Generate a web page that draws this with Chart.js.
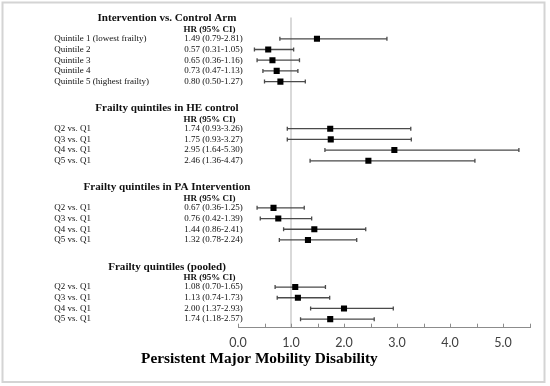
<!DOCTYPE html>
<html>
<head>
<meta charset="utf-8">
<script src="https://cdn.jsdelivr.net/npm/chart.js@4"></script>
<style>
  body{margin:0;background:#fff}
  .wrap{width:550px;height:386px;position:relative}
</style>
</head>
<body>
<div class="wrap"><canvas id="c1"></canvas></div>
<script>
// sections of the forest plot
const sectionTitles = ['Intervention vs. Control Arm', 'Frailty quintiles in HE control', 'Frailty quintiles in PA Intervention', 'Frailty quintiles (pooled)'];

const rowLabels = [
  ['Quintile 1 (lowest frailty)', 'Quintile 2', 'Quintile 3', 'Quintile 4', 'Quintile 5 (highest frailty)'],
  ['Q2 vs. Q1', 'Q3 vs. Q1', 'Q4 vs. Q1', 'Q5 vs. Q1'],
  ['Q2 vs. Q1', 'Q3 vs. Q1', 'Q4 vs. Q1', 'Q5 vs. Q1'],
  ['Q2 vs. Q1', 'Q3 vs. Q1', 'Q4 vs. Q1', 'Q5 vs. Q1']
];

const hr = [
  [1.49, 0.57, 0.65, 0.73, 0.80],
  [1.74, 1.75, 2.95, 2.46],
  [0.67, 0.76, 1.44, 1.32],
  [1.08, 1.13, 2.00, 1.74]
];
const ciLow = [
  [0.79, 0.31, 0.36, 0.47, 0.50],
  [0.93, 0.93, 1.64, 1.36],
  [0.36, 0.42, 0.86, 0.78],
  [0.70, 0.74, 1.37, 1.18]
];
const ciHigh = [
  [2.81, 1.05, 1.16, 1.13, 1.27],
  [3.26, 3.27, 5.30, 4.47],
  [1.25, 1.39, 2.41, 2.24],
  [1.65, 1.73, 2.93, 2.57]
];

const xTickLabels = ['0.0', '1.0', '2.0', '3.0', '4.0', '5.0'];
const axisTitle = 'Persistent Major Mobility Disability';

// row layout (in row units)
const sectionGap = 4.4;
let rowY = [], start = 0;
rowLabels.forEach((rows, s) => {
  if (s > 0) start += rowLabels[s - 1].length - 1 + sectionGap;
  rowY.push(rows.map((r, i) => start + i));
});

let points = [];
hr.forEach((sec, s) => sec.forEach((v, i) => points.push({x: v, y: rowY[s][i]})));

const serif = '"Liberation Serif", "Times New Roman", serif';

const forestPlugin = {
  id: 'forest',
  beforeDraw(chart){
    const ctx = chart.ctx;
    ctx.save();
    ctx.strokeStyle = '#d4d4d4';
    ctx.lineWidth = 2;
    ctx.strokeRect(2.5, 2.5, 542, 379.5);
    ctx.restore();
  },
  beforeDatasetsDraw(chart){
    const ctx = chart.ctx, xs = chart.scales.x, ys = chart.scales.y;
    ctx.save();
    ctx.strokeStyle = '#4a4a4a';
    ctx.lineWidth = 1.3;
    hr.forEach((sec, s) => sec.forEach((v, i) => {
      const y = ys.getPixelForValue(rowY[s][i]);
      const x1 = xs.getPixelForValue(ciLow[s][i]);
      const x2 = xs.getPixelForValue(ciHigh[s][i]);
      ctx.beginPath();
      ctx.moveTo(x1, y); ctx.lineTo(x2, y);
      ctx.moveTo(x1, y - 2); ctx.lineTo(x1, y + 2);
      ctx.moveTo(x2, y - 2); ctx.lineTo(x2, y + 2);
      ctx.stroke();
    }));
    ctx.restore();
  },
  afterDraw(chart){
    const ctx = chart.ctx, xs = chart.scales.x, ys = chart.scales.y;
    const area = chart.chartArea;
    ctx.save();
    // inside tick marks
    ctx.strokeStyle = '#8c8c8c';
    ctx.lineWidth = 1;
    xs.ticks.forEach(t => {
      const x = Math.round(xs.getPixelForValue(t.value)) + 0.5;
      ctx.beginPath();
      ctx.moveTo(x, area.bottom);
      ctx.lineTo(x, area.bottom - 4);
      ctx.stroke();
    });

    ctx.fillStyle = '#111';
    ctx.textBaseline = 'middle';
    sectionTitles.forEach((title, s) => {
      const y0 = rowY[s][0];
      ctx.font = 'bold 11.1px ' + serif;
      ctx.textAlign = 'center';
      ctx.fillText(title, 167, ys.getPixelForValue(y0 - 1.9));
      ctx.font = 'bold 9px ' + serif;
      ctx.textAlign = 'left';
      ctx.fillText('HR (95% CI)', 183.5, ys.getPixelForValue(y0 - 0.85));
      ctx.font = '9px ' + serif;
      rowLabels[s].forEach((lab, i) => {
        const y = ys.getPixelForValue(rowY[s][i]);
        ctx.fillText(lab, 54.3, y);
        ctx.fillText(hr[s][i].toFixed(2) + ' (' + ciLow[s][i].toFixed(2) + '-' + ciHigh[s][i].toFixed(2) + ')', 184.3, y);
      });
    });

    ctx.font = 'bold 15.3px ' + serif;
    ctx.textAlign = 'center';
    ctx.fillStyle = '#000';
    ctx.fillText(axisTitle, 259.4, 359);
    ctx.restore();
  }
};

new Chart(document.querySelector('#c1'), {
  type: 'scatter',
  data: {
    datasets: [{
      data: points,
      pointStyle: 'rect',
      pointRadius: 4.3,
      backgroundColor: '#000',
      borderColor: '#000',
      borderWidth: 0
    }]
  },
  options: {
    responsive: true,
    maintainAspectRatio: false,
    animation: false,
    events: [],
    layout: { padding: { left: 238, right: 20.5, top: 17.4, bottom: 0 } },
    plugins: { legend: { display: false }, tooltip: { enabled: false } },
    scales: {
      x: {
        type: 'linear',
        min: 0,
        max: 5.5,
        afterFit: s => { s.height = 58.3 },
        ticks: {
          stepSize: 0.5,
          autoSkip: false,
          maxRotation: 0,
          padding: 8,
          color: '#404040',
          font: { family: 'Lato', size: 12.5 },
          callback: v => Number.isInteger(v) ? xTickLabels[v] : ''
        },
        grid: {
          drawTicks: false,
          lineWidth: 2,
          color: c => (c.tick && c.tick.value === 1) ? '#d9d9d9' : 'rgba(0,0,0,0)'
        },
        border: { color: '#8c8c8c', width: 1 }
      },
      y: {
        type: 'linear',
        display: false,
        reverse: true,
        min: -2,
        max: 27
      }
    }
  },
  plugins: [forestPlugin]
});
</script>
</body>
</html>
